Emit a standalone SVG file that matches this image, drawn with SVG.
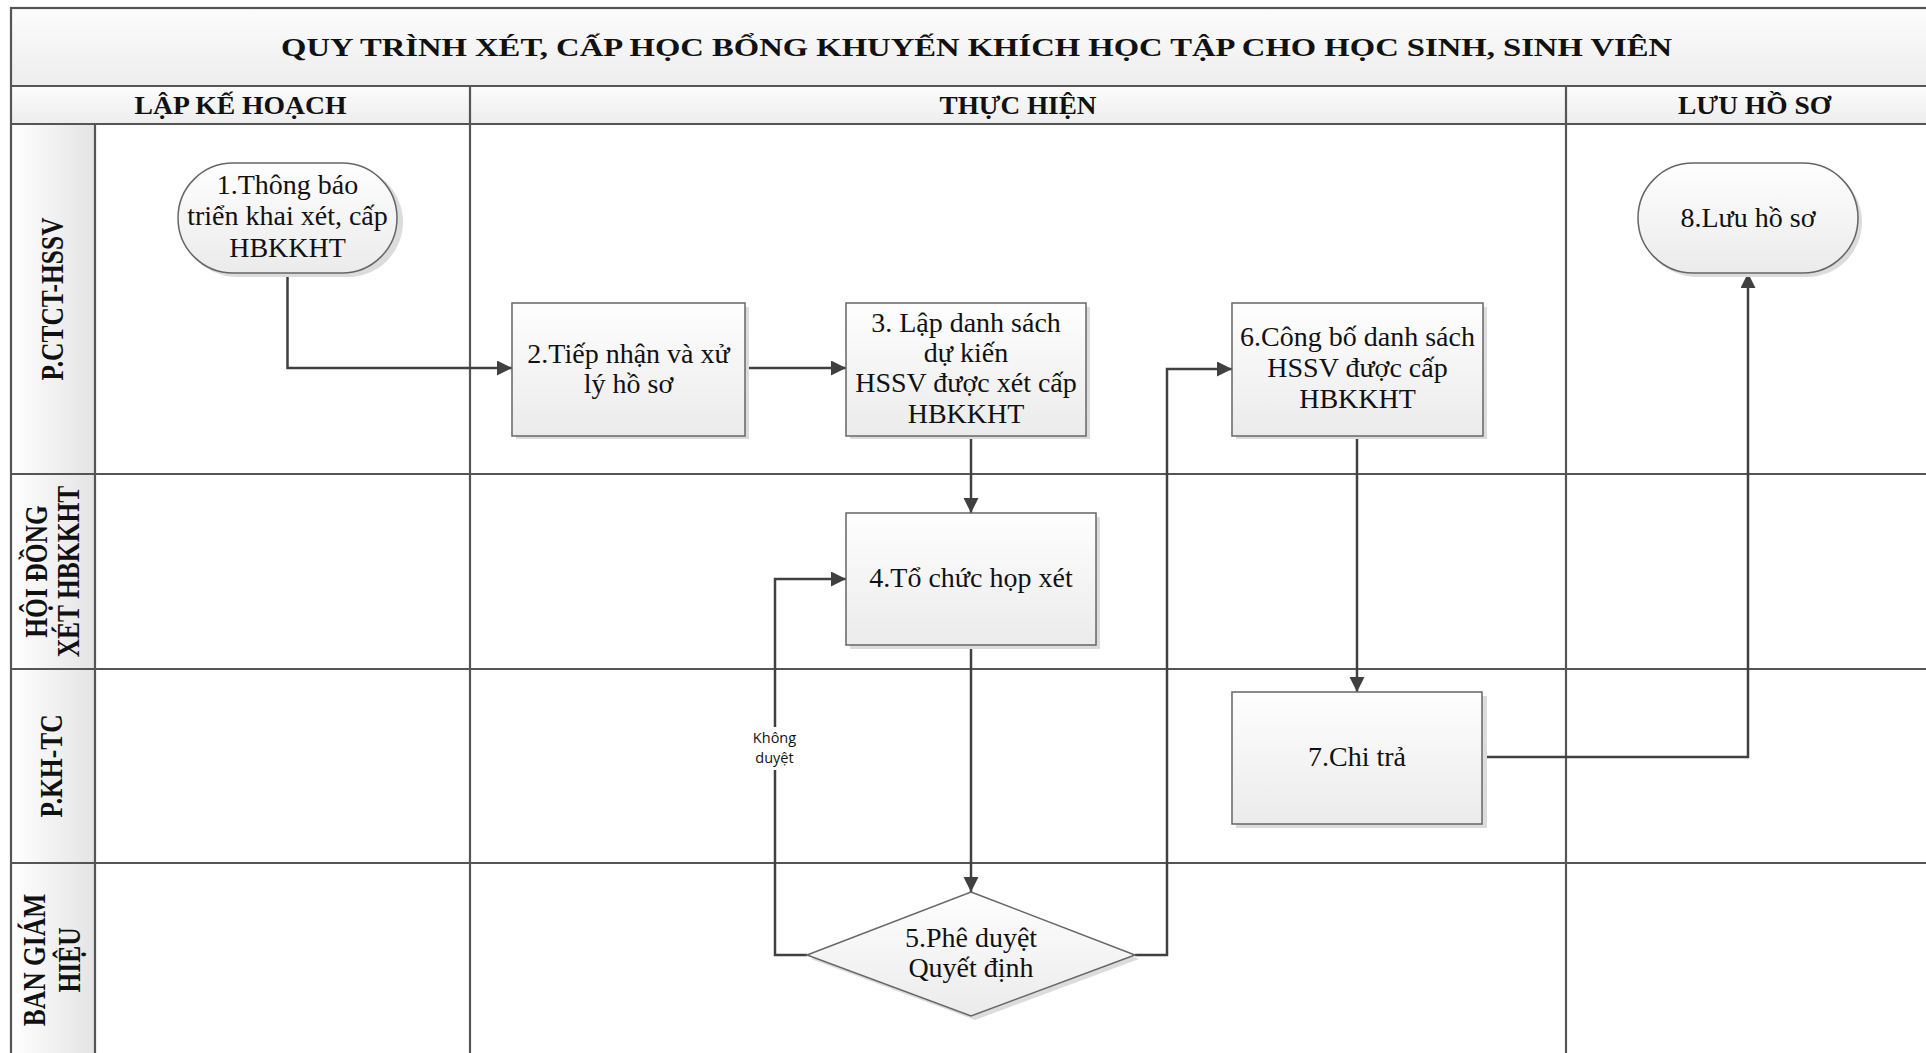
<svg xmlns="http://www.w3.org/2000/svg" width="1926" height="1053" viewBox="0 0 1926 1053">
<defs>
<linearGradient id="gBand" x1="0" y1="0" x2="0" y2="1"><stop offset="0" stop-color="#fcfcfc"/><stop offset="1" stop-color="#ededed"/></linearGradient>
<linearGradient id="gLane" x1="0" y1="0" x2="1" y2="0"><stop offset="0" stop-color="#ffffff"/><stop offset="1" stop-color="#e4e4e4"/></linearGradient>
<linearGradient id="gNode" x1="0" y1="0" x2="0" y2="1"><stop offset="0" stop-color="#fefefe"/><stop offset="1" stop-color="#ebebeb"/></linearGradient>
<marker id="arr" markerWidth="16" markerHeight="16" refX="15" refY="7.5" orient="auto" markerUnits="userSpaceOnUse"><path d="M0,0 L15,7.5 L0,15 z" fill="#404040"/></marker>
</defs>
<style>
.frame{fill:none;stroke:#555;stroke-width:2.2}
.ln{stroke:#555;stroke-width:2.2}
.node{fill:url(#gNode);stroke:#666;stroke-width:1.5}
.sh{fill:#dcdcdc}
.t{font-family:"Liberation Serif","Times New Roman",serif;font-size:28px;fill:#111;text-anchor:middle}
.hd{font-family:"Liberation Serif","Times New Roman",serif;font-weight:bold;font-size:26px;fill:#111;text-anchor:middle}
.lane{font-family:"Liberation Serif","Times New Roman",serif;font-weight:bold;font-size:25.5px;fill:#111;text-anchor:middle}
.con{fill:none;stroke:#404040;stroke-width:2.5}
.lbl{font-family:"Open Sans","Liberation Sans",sans-serif;font-size:14.5px;fill:#111;text-anchor:middle}
</style>
<rect x="0" y="0" width="1926" height="1053" fill="#ffffff"/>
<g id="frame">
<rect x="11" y="8" width="1931" height="78" fill="url(#gBand)"/>
<rect x="11" y="86" width="1931" height="38" fill="url(#gBand)"/>
<rect x="11" y="124" width="84" height="940" fill="url(#gLane)"/>
<rect class="frame" x="11" y="8" width="1931" height="1056"/>
<line class="ln" x1="11" y1="86" x2="1942" y2="86"/>
<line class="ln" x1="11" y1="124" x2="1942" y2="124"/>
<line class="ln" x1="11" y1="474" x2="1942" y2="474"/>
<line class="ln" x1="11" y1="669" x2="1942" y2="669"/>
<line class="ln" x1="11" y1="863" x2="1942" y2="863"/>
<line class="ln" x1="95" y1="124" x2="95" y2="1064"/>
<line class="ln" x1="470" y1="86" x2="470" y2="1064"/>
<line class="ln" x1="1566" y1="86" x2="1566" y2="1064"/>
<text class="hd" x="976.5" y="56" font-size="31" textLength="1391" lengthAdjust="spacingAndGlyphs">QUY TRÌNH XÉT, CẤP HỌC BỔNG KHUYẾN KHÍCH HỌC TẬP CHO HỌC SINH, SINH VIÊN</text>
<text class="hd" x="240.5" y="114" font-size="27" textLength="212" lengthAdjust="spacingAndGlyphs">LẬP KẾ HOẠCH</text>
<text class="hd" x="1018" y="114" font-size="27" textLength="157" lengthAdjust="spacingAndGlyphs">THỰC HIỆN</text>
<text class="hd" x="1754.5" y="114" font-size="27" textLength="153" lengthAdjust="spacingAndGlyphs">LƯU HỒ SƠ</text>
<text class="lane" transform="translate(63,299) scale(1.2,1) rotate(-90)">P.CTCT-HSSV</text>
<text class="lane" transform="translate(47,571.5) scale(1.2,1) rotate(-90)">HỘI ĐỒNG</text>
<text class="lane" transform="translate(79,571.5) scale(1.2,1) rotate(-90)">XÉT HBKKHT</text>
<text class="lane" transform="translate(62,766) scale(1.2,1) rotate(-90)">P.KH-TC</text>
<text class="lane" transform="translate(45,960) scale(1.2,1) rotate(-90)">BAN GIÁM</text>
<text class="lane" transform="translate(80,960) scale(1.2,1) rotate(-90)">HIỆU</text>
</g>
<g id="connectors">
<path class="con" d="M287.5,273 V368 H512" marker-end="url(#arr)"/>
<path class="con" d="M745,368 H846" marker-end="url(#arr)"/>
<path class="con" d="M971,436 V513" marker-end="url(#arr)"/>
<path class="con" d="M971,645 V892" marker-end="url(#arr)"/>
<path class="con" d="M807,955 H775 V579 H846" marker-end="url(#arr)"/>
<path class="con" d="M1135,955 H1167 V369 H1232" marker-end="url(#arr)"/>
<path class="con" d="M1357,436 V692" marker-end="url(#arr)"/>
<path class="con" d="M1482,757 H1748 V273" marker-end="url(#arr)"/>
<rect x="745" y="727" width="60" height="43" fill="#ffffff"/>
<text class="lbl" x="774.5" y="742.5">Không</text>
<text class="lbl" x="774.5" y="763">duyệt</text>
</g>
<g id="n1">
<rect class="sh" x="182" y="167" width="221" height="110" rx="55"/>
<rect class="node" x="178" y="163" width="219" height="110" rx="55"/>
<text class="t" x="287.5" y="194">1.Thông báo</text>
<text class="t" x="287.5" y="225">triển khai xét, cấp</text>
<text class="t" x="287.5" y="257">HBKKHT</text>
</g>
<g id="n2">
<rect class="sh" x="516" y="307" width="233" height="132"/>
<rect class="node" x="512" y="303" width="233" height="133"/>
<text class="t" x="628.5" y="363">2.Tiếp nhận và xử</text>
<text class="t" x="628.5" y="393">lý hồ sơ</text>
</g>
<g id="n3">
<rect class="sh" x="850" y="307" width="240" height="132"/>
<rect class="node" x="846" y="303" width="240" height="133"/>
<text class="t" x="966" y="332">3. Lập danh sách</text>
<text class="t" x="966" y="362">dự kiến</text>
<text class="t" x="966" y="392">HSSV được xét cấp</text>
<text class="t" x="966" y="423">HBKKHT</text>
</g>
<g id="n4">
<rect class="sh" x="850" y="517" width="250" height="132"/>
<rect class="node" x="846" y="513" width="250" height="132"/>
<text class="t" x="971" y="587">4.Tổ chức họp xét</text>
</g>
<g id="n5">
<polygon class="sh" points="975,896 1139,959 975,1020 811,959"/>
<polygon class="node" points="971,892 1135,955 971,1016 807,955"/>
<text class="t" x="971" y="947">5.Phê duyệt</text>
<text class="t" x="971" y="977">Quyết định</text>
</g>
<g id="n6">
<rect class="sh" x="1236" y="307" width="251" height="132"/>
<rect class="node" x="1232" y="303" width="251" height="133"/>
<text class="t" x="1357.5" y="346">6.Công bố danh sách</text>
<text class="t" x="1357.5" y="377">HSSV được cấp</text>
<text class="t" x="1357.5" y="408">HBKKHT</text>
</g>
<g id="n7">
<rect class="sh" x="1236" y="696" width="251" height="132"/>
<rect class="node" x="1232" y="692" width="250" height="132"/>
<text class="t" x="1357" y="766">7.Chi trả</text>
</g>
<g id="n8">
<rect class="sh" x="1642" y="167" width="220" height="110" rx="55"/>
<rect class="node" x="1638" y="163" width="220" height="110" rx="55"/>
<text class="t" x="1748" y="227">8.Lưu hồ sơ</text>
</g>
</svg>
